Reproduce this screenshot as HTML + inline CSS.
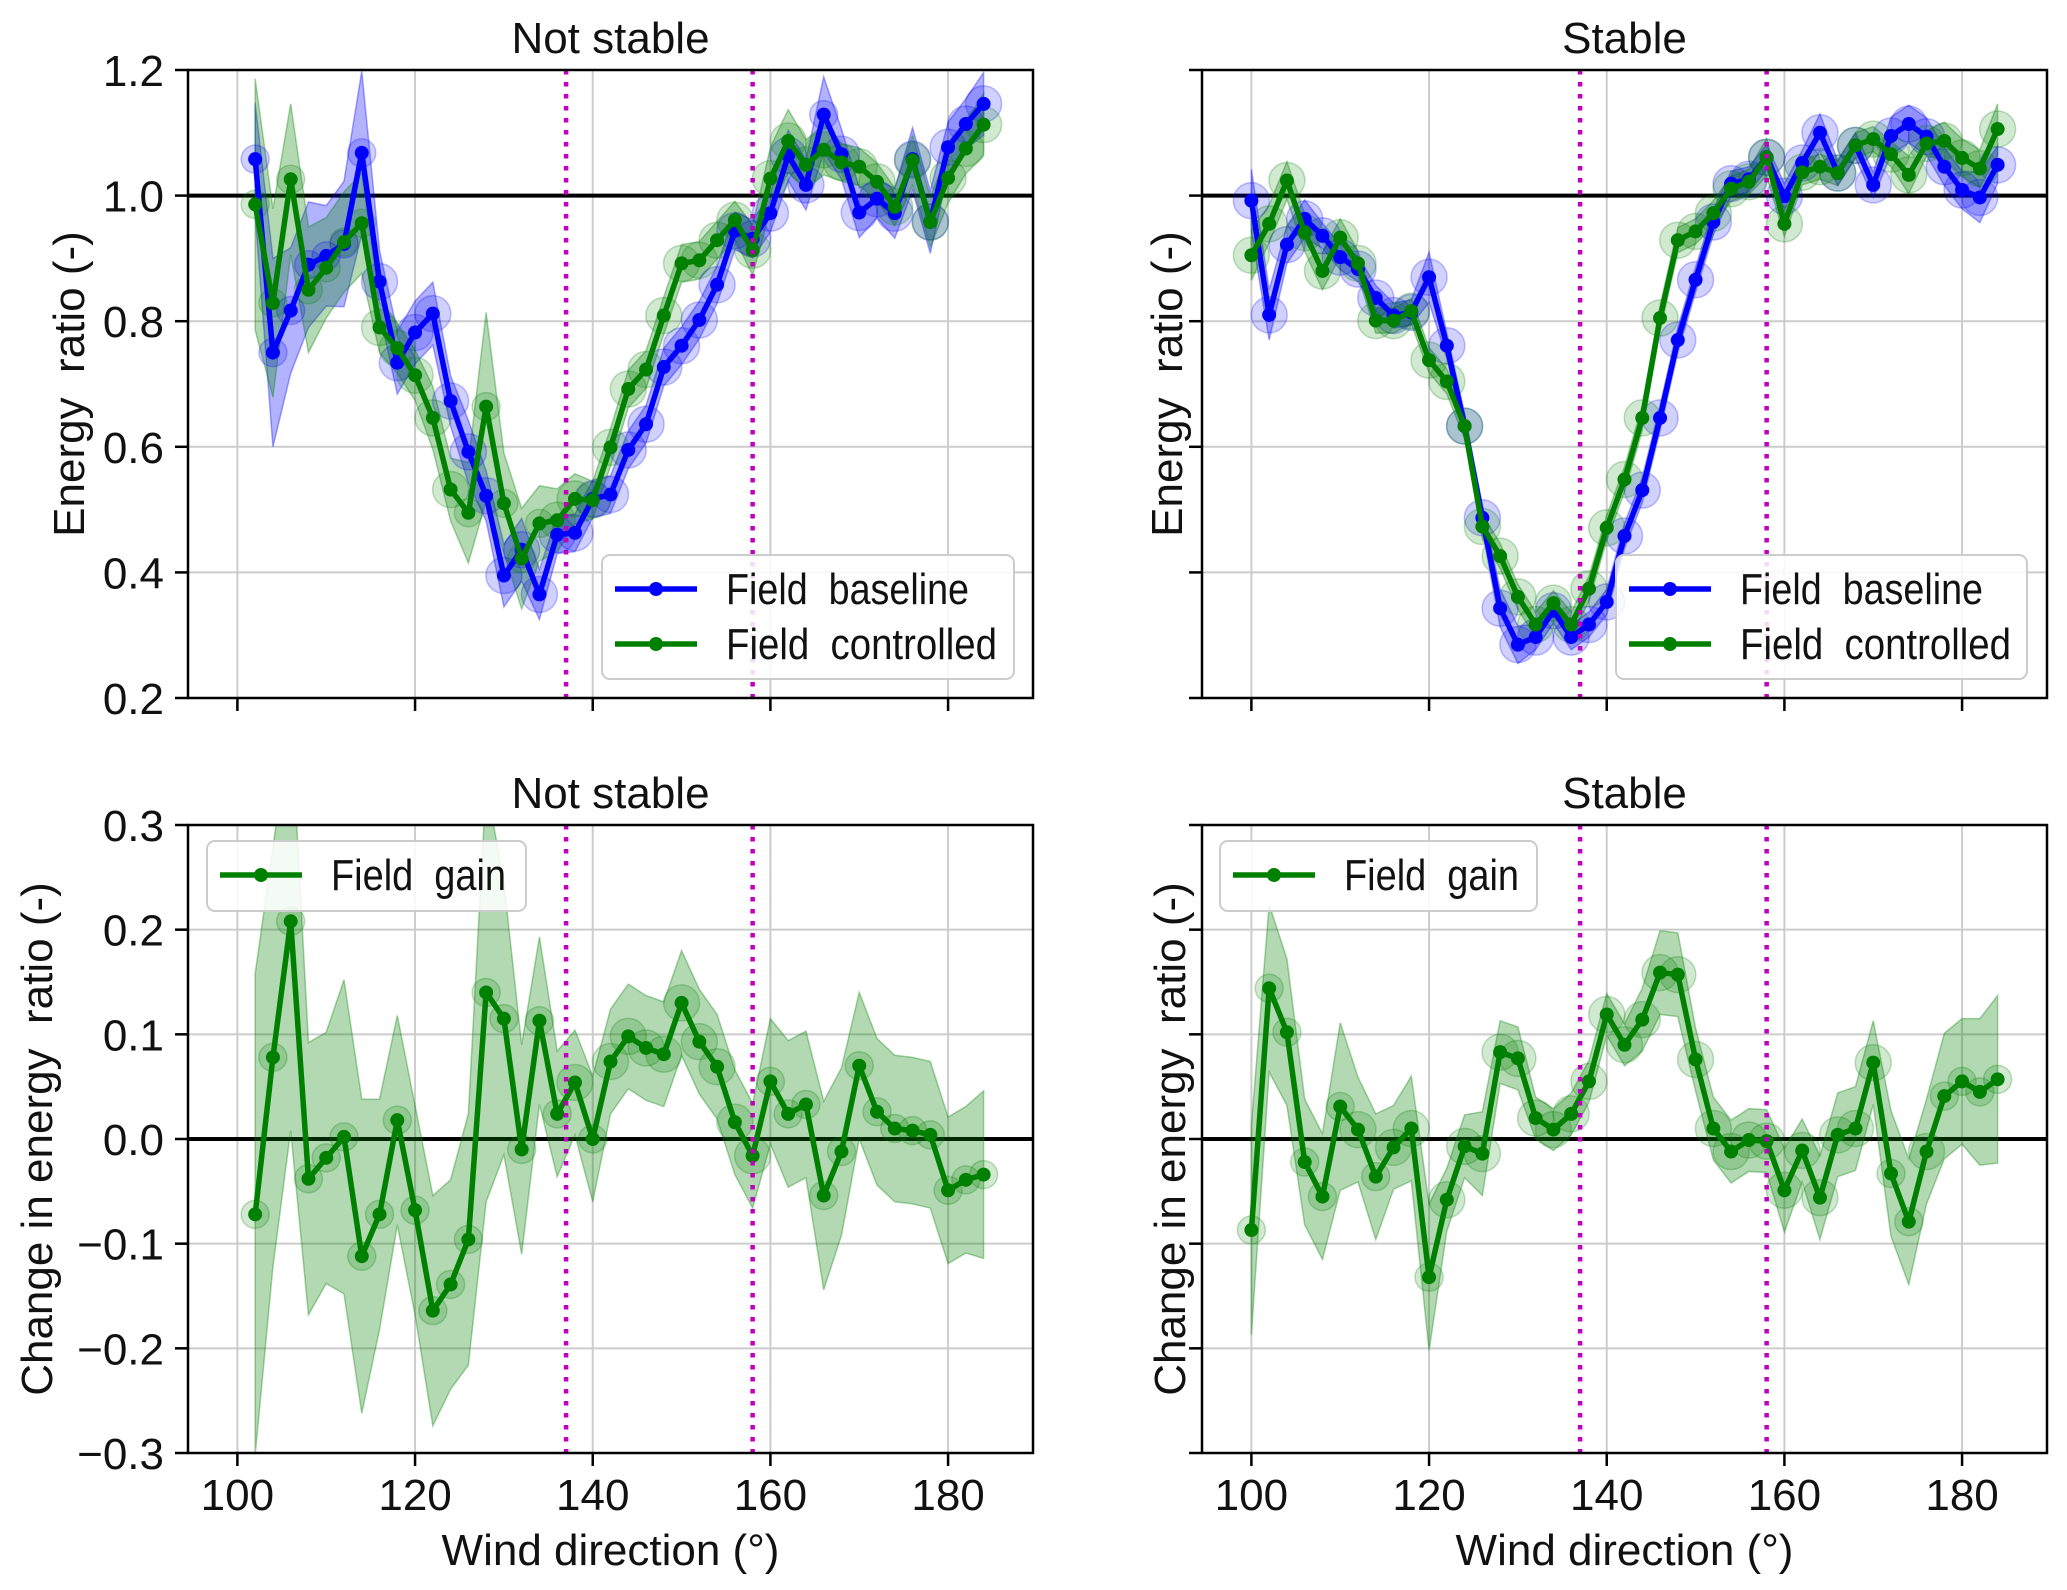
<!DOCTYPE html>
<html><head><meta charset="utf-8"><style>
html,body{margin:0;padding:0;background:#fff;}
svg{display:block;font-family:"Liberation Sans",Arial,sans-serif;}
svg text{white-space:pre;}
</style></head><body>
<svg id="fig" width="2067" height="1590" viewBox="0 0 2067 1590" xmlns="http://www.w3.org/2000/svg" xml:space="preserve"></svg>
<script>
// ---- data ----
const xNS = [102,104,106,108,110,112,114,116,118,120,122,124,126,128,130,132,134,136,138,140,142,144,146,148,150,152,154,156,158,160,162,164,166,168,170,172,174,176,178,180,182,184];
const xS = [100,102,104,106,108,110,112,114,116,118,120,122,124,126,128,130,132,134,136,138,140,142,144,146,148,150,152,154,156,158,160,162,164,166,168,170,172,174,176,178,180,182,184];
const baseNS = [1.058,0.75,0.817,0.89,0.904,0.923,1.068,0.863,0.734,0.782,0.812,0.673,0.592,0.522,0.395,0.436,0.365,0.46,0.463,0.517,0.524,0.595,0.636,0.727,0.761,0.802,0.858,0.944,0.931,0.972,1.064,1.017,1.129,1.066,0.973,0.995,0.972,1.058,0.958,1.077,1.114,1.146];
const baseNSerr = [0.09,0.15,0.1,0.1,0.08,0.1,0.13,0.05,0.05,0.05,0.05,0.04,0.05,0.04,0.05,0.05,0.04,0.03,0.03,0.03,0.03,0.03,0.03,0.03,0.03,0.03,0.03,0.03,0.03,0.03,0.04,0.04,0.06,0.04,0.04,0.03,0.04,0.05,0.05,0.04,0.04,0.05];
const ctrlNS = [0.986,0.829,1.026,0.85,0.885,0.926,0.956,0.79,0.757,0.714,0.646,0.532,0.495,0.664,0.51,0.422,0.478,0.483,0.517,0.515,0.599,0.692,0.723,0.809,0.892,0.897,0.929,0.961,0.913,1.027,1.087,1.049,1.073,1.053,1.046,1.022,0.982,1.056,0.958,1.028,1.075,1.113];
const ctrlNSerr = [0.2,0.15,0.12,0.1,0.08,0.08,0.08,0.04,0.04,0.04,0.05,0.05,0.08,0.15,0.08,0.08,0.06,0.05,0.04,0.03,0.03,0.03,0.03,0.03,0.03,0.03,0.03,0.03,0.04,0.05,0.05,0.04,0.04,0.03,0.03,0.03,0.03,0.04,0.04,0.04,0.04,0.05];
const baseS = [0.992,0.81,0.922,0.963,0.936,0.902,0.883,0.837,0.809,0.814,0.87,0.761,0.633,0.487,0.343,0.285,0.297,0.339,0.297,0.317,0.353,0.458,0.531,0.646,0.77,0.866,0.958,1.019,1.026,1.061,0.999,1.052,1.1,1.036,1.08,1.017,1.095,1.114,1.094,1.046,1.009,0.997,1.049];
const baseSerr = [0.05,0.04,0.03,0.03,0.02,0.02,0.02,0.02,0.02,0.02,0.04,0.02,0.02,0.02,0.03,0.03,0.02,0.02,0.02,0.02,0.02,0.02,0.02,0.02,0.02,0.02,0.02,0.02,0.02,0.02,0.02,0.02,0.03,0.02,0.02,0.02,0.03,0.03,0.03,0.03,0.03,0.04,0.03];
const ctrlS = [0.905,0.955,1.024,0.941,0.88,0.933,0.892,0.801,0.801,0.816,0.738,0.704,0.633,0.473,0.426,0.361,0.317,0.351,0.317,0.374,0.471,0.548,0.646,0.805,0.929,0.943,0.972,1.011,1.022,1.061,0.955,1.037,1.046,1.036,1.08,1.09,1.066,1.033,1.083,1.087,1.06,1.043,1.106];
const ctrlSerr = [0.04,0.03,0.03,0.03,0.03,0.03,0.02,0.02,0.02,0.02,0.02,0.02,0.02,0.02,0.02,0.02,0.02,0.02,0.02,0.02,0.02,0.02,0.02,0.02,0.02,0.02,0.02,0.02,0.02,0.03,0.02,0.02,0.02,0.02,0.02,0.02,0.02,0.03,0.02,0.03,0.03,0.03,0.04];
const gainNS = [-0.072,0.078,0.208,-0.038,-0.018,0.002,-0.112,-0.072,0.018,-0.068,-0.164,-0.139,-0.096,0.14,0.115,-0.01,0.113,0.024,0.054,0.0,0.074,0.098,0.087,0.081,0.13,0.093,0.069,0.016,-0.016,0.055,0.024,0.033,-0.054,-0.012,0.07,0.026,0.01,0.008,0.004,-0.049,-0.039,-0.034];
const gainNSerr = [0.23,0.2,0.2,0.13,0.12,0.15,0.15,0.11,0.1,0.1,0.11,0.1,0.12,0.2,0.13,0.1,0.08,0.06,0.05,0.06,0.05,0.05,0.05,0.05,0.05,0.05,0.05,0.05,0.05,0.06,0.07,0.07,0.09,0.08,0.07,0.07,0.07,0.07,0.07,0.07,0.07,0.08];
const gainS = [-0.087,0.144,0.102,-0.022,-0.055,0.031,0.009,-0.036,-0.008,0.01,-0.132,-0.058,-0.007,-0.014,0.083,0.077,0.02,0.009,0.024,0.055,0.119,0.09,0.114,0.159,0.157,0.076,0.01,-0.012,-0.001,-0.002,-0.049,-0.011,-0.056,0.004,0.01,0.073,-0.033,-0.079,-0.012,0.041,0.055,0.045,0.057];
const gainSerr = [0.1,0.08,0.07,0.06,0.06,0.08,0.05,0.06,0.04,0.05,0.07,0.03,0.03,0.04,0.03,0.03,0.02,0.02,0.02,0.02,0.02,0.02,0.03,0.04,0.04,0.03,0.03,0.03,0.03,0.03,0.04,0.03,0.04,0.04,0.04,0.04,0.06,0.06,0.05,0.06,0.06,0.07,0.08];
const xTicks = [100,120,140,160,180];
const yTopTicks = [0.2,0.4,0.6,0.8,1.0,1.2];
const yTopLabels = ["0.2","0.4","0.6","0.8","1.0","1.2"];
const yBotTicks = [-0.3,-0.2,-0.1,0.0,0.1,0.2,0.3];
const yBotLabels = ["\u22120.3","\u22120.2","\u22120.1","0.0","0.1","0.2","0.3"];
const vLines = [137,158];

const NS = "http://www.w3.org/2000/svg";
const svg = document.getElementById('fig');
function el(tag, attrs, parent, text){
  const e = document.createElementNS(NS, tag);
  for (const k in attrs) e.setAttribute(k, attrs[k]);
  if (text !== undefined) e.textContent = text;
  (parent||svg).appendChild(e);
  return e;
}
const X0 = 94.44, X1 = 189.56;
const FS = 44;

function panel(o){
  const g = el('g', {});
  
  
  const sx = v => o.l + (v - X0) / (X1 - X0) * (o.r - o.l);
  const sy = v => o.b - (v - o.y0) / (o.y1 - o.y0) * (o.b - o.t);
  const clipId = o.name + '-clip';
  const cp = el('clipPath', {id: clipId}, g);
  el('rect', {x:o.l, y:o.t, width:o.r-o.l, height:o.b-o.t}, cp);
  xTicks.forEach(t => {
    const gl = el('line', {x1:sx(t), x2:sx(t), y1:o.t, y2:o.b, stroke:'#cccccc', 'stroke-width':2}, g);
    
    
  });
  o.yticks.forEach(t => {
    const gl = el('line', {x1:o.l, x2:o.r, y1:sy(t), y2:sy(t), stroke:'#cccccc', 'stroke-width':2}, g);
    
    
  });
  const pg = el('g', {'clip-path':'url(#'+clipId+')'}, g);
  const rl = el('line', {x1:o.l, x2:o.r, y1:sy(o.ref), y2:sy(o.ref), stroke:'#000', 'stroke-width':4}, pg);
  
  
  o.series.forEach(s => {
    let up = '', lo = '';
    s.x.forEach((xv,i) => { up += (i?'L':'M') + sx(xv) + ',' + sy(s.y[i] + s.e[i]) + ' '; });
    for (let i = s.x.length-1; i >= 0; i--) lo += 'L' + sx(s.x[i]) + ',' + sy(s.y[i] - s.e[i]) + ' ';
    const band = el('path', {d: up + lo + 'Z', fill:s.color, 'fill-opacity':0.3, stroke:s.color, 'stroke-opacity':0.35, 'stroke-width':1.5}, pg);
    
    
  });
  o.series.forEach(s => {
    s.x.forEach((xv,i) => {
      const c = el('circle', {cx:sx(xv), cy:sy(s.y[i]), r:14 + (s.e[i] > 0.05 ? 0 : 4), fill:s.color, 'fill-opacity':0.18, stroke:s.color, 'stroke-opacity':0.25, 'stroke-width':1.5}, pg);
      
      
    });
  });
  o.series.forEach(s => {
    const pts = s.x.map((xv,i) => sx(xv) + ',' + sy(s.y[i])).join(' ');
    const ln = el('polyline', {points:pts, fill:'none', stroke:s.color, 'stroke-width':5.5, 'stroke-linejoin':'round'}, pg);
    
    
    s.x.forEach((xv,i) => {
      const m = el('circle', {cx:sx(xv), cy:sy(s.y[i]), r:7, fill:s.color}, pg);
      
      
    });
  });
  vLines.forEach(v => {
    const vl = el('line', {x1:sx(v), x2:sx(v), y1:o.t, y2:o.b, stroke:'#bf00bf', 'stroke-width':4.5, 'stroke-dasharray':'4.5,7.5'}, pg);
    
    
  });
  const fr = el('rect', {x:o.l, y:o.t, width:o.r-o.l, height:o.b-o.t, fill:'none', stroke:'#000', 'stroke-width':2.5}, g);
  
  
  xTicks.forEach(t => {
    el('line', {x1:sx(t), x2:sx(t), y1:o.b, y2:o.b+13, stroke:'#000', 'stroke-width':2.5}, g);
    if (o.xlabels) {
      const tl = el('text', {x:sx(t), y:o.b+57, 'font-size':FS, 'text-anchor':'middle', fill:'#111'}, g, String(t));
      
      
    }
  });
  o.yticks.forEach((t,i) => {
    el('line', {x1:o.l-13, x2:o.l, y1:sy(t), y2:sy(t), stroke:'#000', 'stroke-width':2.5}, g);
    if (o.ylabels) {
      const tl = el('text', {x:o.l-24, y:sy(t)+16, 'font-size':FS, 'text-anchor':'end', fill:'#111'}, g, o.ylabels[i]);
      
      
    }
  });
  const ti = el('text', {x:(o.l+o.r)/2, y:o.t-17, 'font-size':FS, 'text-anchor':'middle', fill:'#111'}, g, o.title);
  
  
  const yl = el('text', {x:0, y:0, 'font-size':FS, 'text-anchor':'middle', fill:'#111', transform:'translate('+o.ylx+','+((o.t+o.b)/2)+') rotate(-90)'}, g, o.ytitle);
  
  
  if (o.xlabels) {
    const xl = el('text', {x:(o.l+o.r)/2, y:1565, 'font-size':FS, 'text-anchor':'middle', fill:'#111'}, g, 'Wind direction (\u00b0)');
    
    
  }
  const L = o.legend;
  const lg = el('g', {}, g);
  
  
  el('rect', {x:L.x, y:L.y, width:L.w, height:L.h, rx:8, fill:'#fff', 'fill-opacity':0.85, stroke:'#cccccc', 'stroke-width':2}, lg);
  L.items.forEach((it,i) => {
    const cy = L.y + 34 + i*55;
    const ent = el('g', {}, lg);
    
    
    el('line', {x1:L.x+13, x2:L.x+95, y1:cy, y2:cy, stroke:it.color, 'stroke-width':5.5}, ent);
    el('circle', {cx:L.x+54, cy:cy, r:7, fill:it.color}, ent);
    el('text', {x:L.x+124, y:cy+15, 'font-size':FS, fill:'#111', textLength:it.len, lengthAdjust:'spacingAndGlyphs'}, ent, it.label);
  });
}

const B = '#0000ff', G = '#008000';
panel({name:'top-left-panel', l:188, r:1033, t:70, b:698, y0:0.2, y1:1.2, ref:1.0,
  yticks:yTopTicks, ylabels:yTopLabels, xlabels:false, title:'Not stable', ytitle:'Energy  ratio (-)', ylx:84,
  series:[{key:'baseline', x:xNS, y:baseNS, e:baseNSerr, color:B},{key:'controlled', x:xNS, y:ctrlNS, e:ctrlNSerr, color:G}],
  legend:{x:602, y:555, w:412, h:124, items:[{label:'Field  baseline', color:B, len:243},{label:'Field  controlled', color:G, len:271}]}});
panel({name:'top-right-panel', l:1202, r:2047, t:70, b:698, y0:0.2, y1:1.2, ref:1.0,
  yticks:yTopTicks, ylabels:null, xlabels:false, title:'Stable', ytitle:'Energy  ratio (-)', ylx:1182,
  series:[{key:'baseline', x:xS, y:baseS, e:baseSerr, color:B},{key:'controlled', x:xS, y:ctrlS, e:ctrlSerr, color:G}],
  legend:{x:1616, y:555, w:411, h:124, items:[{label:'Field  baseline', color:B, len:243},{label:'Field  controlled', color:G, len:271}]}});
panel({name:'bottom-left-panel', l:188, r:1033, t:825, b:1453, y0:-0.3, y1:0.3, ref:0.0,
  yticks:yBotTicks, ylabels:yBotLabels, xlabels:true, title:'Not stable', ytitle:'Change in energy  ratio (-)', ylx:52,
  series:[{key:'gain', x:xNS, y:gainNS, e:gainNSerr, color:G}],
  legend:{x:207, y:841, w:319, h:70, items:[{label:'Field  gain', color:G, len:175}]}});
panel({name:'bottom-right-panel', l:1202, r:2047, t:825, b:1453, y0:-0.3, y1:0.3, ref:0.0,
  yticks:yBotTicks, ylabels:null, xlabels:true, title:'Stable', ytitle:'Change in energy  ratio (-)', ylx:1185,
  series:[{key:'gain', x:xS, y:gainS, e:gainSerr, color:G}],
  legend:{x:1220, y:841, w:317, h:70, items:[{label:'Field  gain', color:G, len:175}]}});
</script>
</body></html>
